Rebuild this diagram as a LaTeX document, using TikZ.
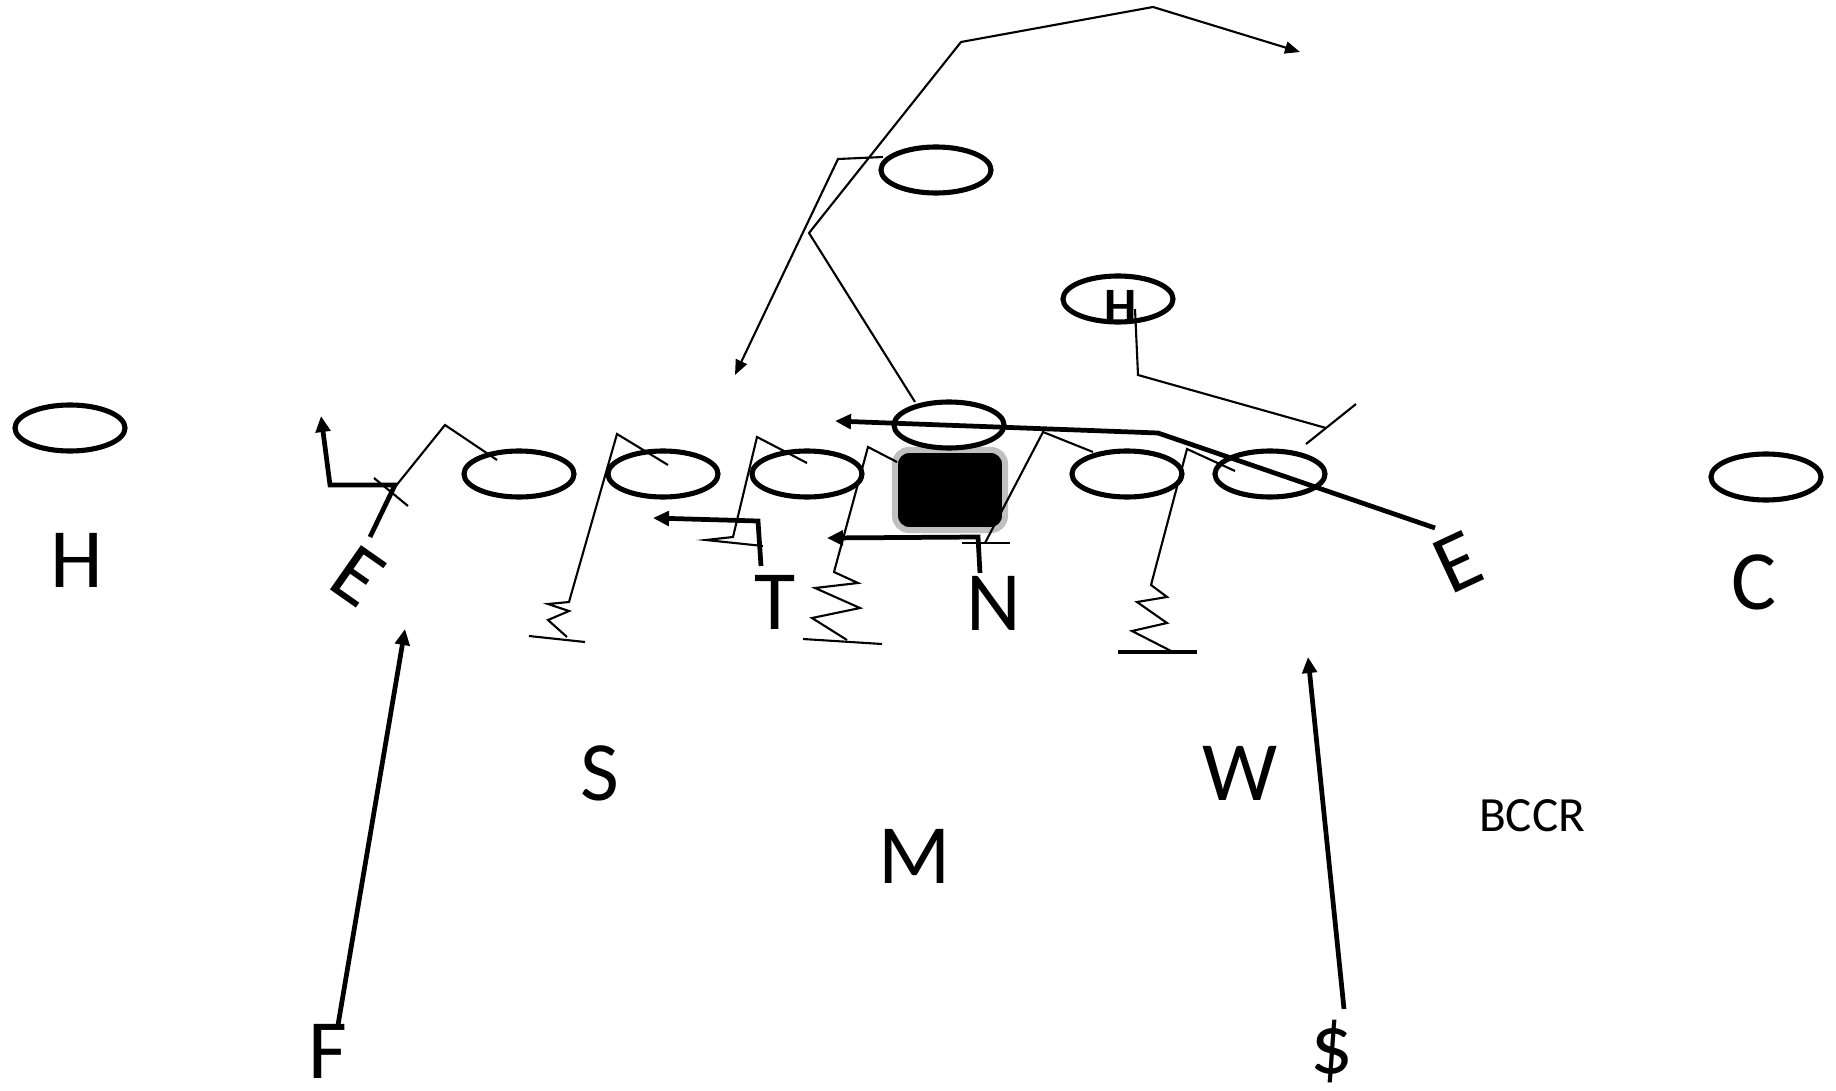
\documentclass[tikz,border=0pt]{standalone}
\usepackage{fontspec}
\setmainfont{Carlito}
\usetikzlibrary{shapes.geometric,arrows.meta}
\definecolor{boxgray}{HTML}{C0C0C0}
\begin{document}
\begin{tikzpicture}[x=0.01cm,y=-0.01cm,
  player/.style={draw,ellipse,line width=1.45pt,minimum width=11mm,minimum height=4.6mm,inner sep=0pt},
  blk/.style={line width=0.6pt,line join=miter},
  run/.style={line width=1.35pt,line join=miter},
  tipbig/.style={-{Triangle[length=1.6mm,width=1.45mm]}},
  tipthin/.style={-{Triangle[length=1.5mm,width=1.2mm]}},
  letter/.style={font=\fontsize{24}{28}\selectfont,inner sep=0pt},
]
\useasboundingbox (0,0) rectangle (1836,1091);

% ball carrier box
\node[draw=boxgray,fill=black,line width=0.6mm,rounded corners=1.4mm,
      minimum width=11mm,minimum height=8mm,inner sep=0pt] (ball) at (950,490) {};

% offensive players
\node[player] (wrH) at (70,428) {};
\node[player] (qb)  at (936,170) {};
\node[player] (hb)  at (1118,299) {};
\node[player] (ctr) at (949,425) {};
\node[player] (ol1) at (519,474) {};
\node[player] (ol2) at (663,474) {};
\node[player] (ol3) at (807,474) {};
\node[player] (ol4) at (1127,474) {};
\node[player] (ol5) at (1270,474) {};
\node[player] (wrC) at (1766,477) {};
\node[font=\bfseries\fontsize{14.5}{16}\selectfont,inner sep=0pt] (hbH) at (1121,307) {H};

% defenders
\node[letter] (dH) at (77,560) {H};
\node[letter] (dT) at (775,602) {T};
\node[letter] (dN) at (994,603) {N};
\node[letter] (dS) at (600,773) {S};
\node[letter] (dW) at (1240,773) {W};
\node[letter] (dM) at (915,856) {M};
\node[letter] (dF) at (328,1051) {F};
\node[letter] (dD) at (1332,1052) {\$};
\node[letter] (dC) at (1754,582) {C};
\node[letter,rotate=-35] (dE1) at (358,576) {E};
\node[letter,rotate=25]  (dE2) at (1458,562) {E};
\node[font=\fontsize{14}{17}\selectfont,inner sep=0pt] (bccr) at (1532,816) {BCCR};

% deep routes
\draw[blk,tipthin] (883,157) -- (838,159) -- (735,375);
\draw[blk,tipthin] (915,402) -- (809,233) -- (961,42) -- (1153,7) -- (1300,52);

% blocking paths
\draw[blk] (497,460) -- (445,425) -- (391,492);
\draw[blk] (374,478) -- (408,506);

\draw[blk] (668,465) -- (617,434) -- (569,602) -- (548,604) -- (569,611)
           -- (548,620) -- (567,637);
\draw[blk] (529,636) -- (585,642);

\draw[blk] (807,463) -- (757,437) -- (733,537) -- (706,540) -- (763,546);

\draw[blk] (897,462) -- (868,447) -- (834,572) -- (858,583) -- (815,588)
           -- (860,608) -- (812,618) -- (847,640);
\draw[blk] (803,639) -- (882,644);

\draw[blk] (1093,452) -- (1043,432) -- (985,543);
\draw[blk] (962,543) -- (1010,543);

\draw[blk] (1235,471) -- (1187,449) -- (1151,585) -- (1167,597) -- (1137,602)
           -- (1167,623) -- (1132,631) -- (1173,652);
\draw[line width=1pt] (1118,652) -- (1197,652);

\draw[blk] (1135,309) -- (1138,375) -- (1326,428);
\draw[blk] (1306,444) -- (1356,404);

% defensive movement
\draw[run,tipbig] (370,537) -- (395,485) -- (330,485) -- (321,416);
\draw[run,tipbig] (761,566) -- (758,521) -- (653,518);
\draw[run,tipbig] (980,573) -- (978,537) -- (827,538);
\draw[run,tipbig] (1435,528) -- (1158,433) -- (835,421);
\draw[run,tipbig] (338,1025) -- (405,629);
\draw[run,tipbig] (1344,1009) -- (1308,657);
\end{tikzpicture}
\end{document}
